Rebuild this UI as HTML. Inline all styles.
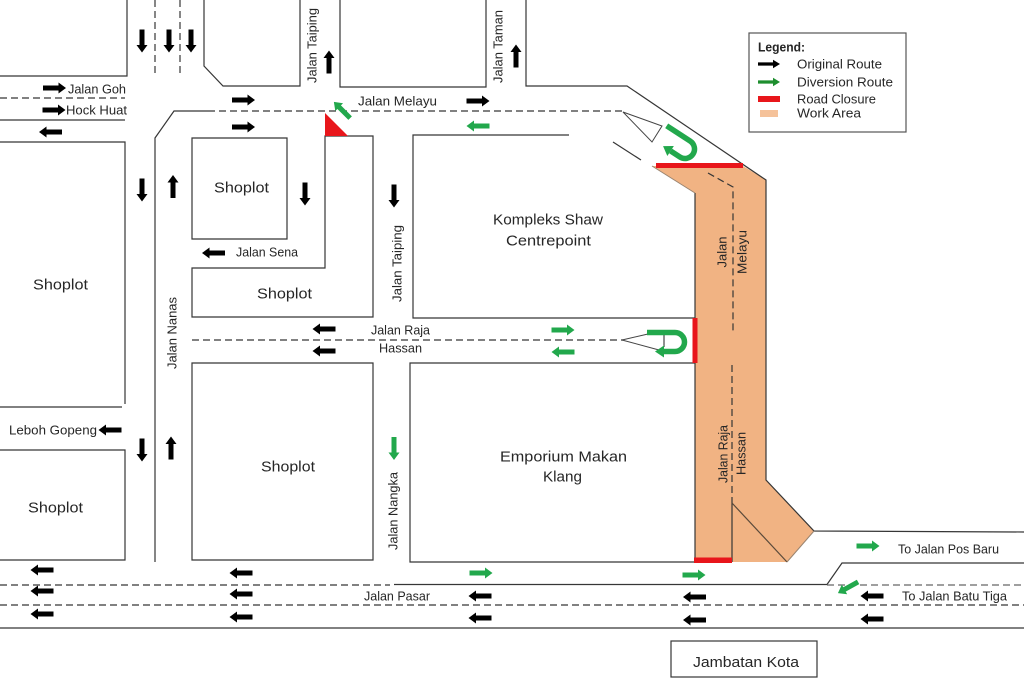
<!DOCTYPE html>
<html>
<head>
<meta charset="utf-8">
<style>
html,body{margin:0;padding:0;background:#fff;}
svg{display:block;}
text{font-family:"Liberation Sans",Arial,sans-serif;fill:#262626;}
.s{font-size:12.5px;}
.m{font-size:15px;}
</style>
</head>
<body>
<svg width="1024" height="694" viewBox="0 0 1024 694" xmlns="http://www.w3.org/2000/svg">
<defs>
  <polygon id="ar" points="-11.5,-2.5 4,-2.5 4,-5.5 11.5,0 4,5.5 4,2.5 -11.5,2.5"/>
  <polygon id="la" points="-11,-1.6 4,-1.6 4,-4.2 11,0 4,4.2 4,1.6 -11,1.6"/>
</defs>
<rect width="1024" height="694" fill="#fff"/>

<!-- Work area -->
<polygon points="652,166 743,166 766,180 766,480 814,531 787,562 695,562 695,193" fill="#F1B383"/>

<!-- solid lines -->
<g fill="none" stroke="#363636" stroke-width="1.2">
  <path d="M127,0 V76 H0"/>
  <path d="M204,0 V66 L223,86 H300 V0"/>
  <path d="M340,0 V87 H486 V0"/>
  <path d="M526,0 V86 H627 L766,180 V480 L814,531 L1024,532"/>
  <path d="M0,120 H125"/>
  <path d="M0,142 H125 V404"/>
  <path d="M0,407 H122"/>
  <path d="M0,450 H125 V560 H0"/>
  <path d="M155,562 V138 L174,111 H208"/>
  <path d="M192,239 V138 H287 V239 Z"/>
  <path d="M192,268 H325 V136 H373 V317 H192 Z"/>
  <path d="M569,135 H413 V318 H695"/>
  <path d="M613,142 L641,160"/>
  <path d="M192,363 H373 V560 H192 Z"/>
  <path d="M695,363 H410 V562 H695"/>
  <path d="M695,193 V562"/>
  <path d="M394,584.5 H827 L842,563 H1024"/>
  <path d="M0,628 H1024"/>
  <path d="M732,503 V562"/>
  <path d="M732,503 L787,562" stroke="#5a4a3a"/>
  <path d="M814,531 L787,562" stroke="#9a8470" stroke-width="1"/>
  <path d="M652,166 L695,193" stroke="#9a8470" stroke-width="1"/>
  <rect x="671" y="641" width="146" height="36"/>
  <rect x="749" y="33" width="157" height="99" stroke="#555"/>
</g>

<!-- dashed lines -->
<g fill="none" stroke="#363636" stroke-width="1.2" stroke-dasharray="7 4">
  <path d="M155,0 V76"/>
  <path d="M180,0 V76"/>
  <path d="M0,98 H125"/>
  <path d="M208,111 H623"/>
  <path d="M192,340 H623"/>
  <path d="M0,585 H390"/>
  <path d="M0,605 H1024"/>
  <path d="M827,585 H1024" stroke="#666"/>
  <path d="M708,173 L733,187 V333"/>
  <path d="M732,365 V503"/>
</g>

<!-- wedges -->
<g fill="none" stroke="#444" stroke-width="1">
  <path d="M623,112 L662,126 L652,142 Z"/>
  <path d="M622,340 L648,334"/>
  <path d="M622,340 L659,350"/>
  <path d="M664,335 V347" stroke="#222"/>
</g>

<!-- red closures -->
<g fill="#E8161B">
  <polygon points="325,113 325,136 348,136"/>
  <rect x="656" y="163" width="87" height="5"/>
  <rect x="692.5" y="318" width="5" height="45"/>
  <rect x="694" y="557.5" width="38" height="5.5"/>
</g>

<!-- U-turns -->
<g transform="translate(675,342)">
  <path d="M-28,-9.5 H0 A9.5,9.5 0 0 1 0,9.5 H-11" fill="none" stroke="#22A84C" stroke-width="5.5"/>
  <polygon points="-20,9.5 -11,3.5 -11,15.5" fill="#22A84C"/>
</g>
<g transform="translate(685,149) rotate(33)">
  <path d="M-28,-9.5 H0 A9.5,9.5 0 0 1 0,9.5 H-11" fill="none" stroke="#22A84C" stroke-width="5.5"/>
  <polygon points="-20,9.5 -11,3.5 -11,15.5" fill="#22A84C"/>
</g>

<!-- black arrows -->
<g fill="#000">
  <use href="#ar" transform="translate(54.5,88)"/>
  <use href="#ar" transform="translate(54,110)"/>
  <use href="#ar" transform="translate(243.5,100)"/>
  <use href="#ar" transform="translate(243.5,127)"/>
  <use href="#ar" transform="translate(478,101)"/>

  <use href="#ar" transform="translate(50.5,132) rotate(180)"/>
  <use href="#ar" transform="translate(213.5,253) rotate(180)"/>
  <use href="#ar" transform="translate(324,329) rotate(180)"/>
  <use href="#ar" transform="translate(324,351) rotate(180)"/>
  <use href="#ar" transform="translate(110,430) rotate(180)"/>
  <use href="#ar" transform="translate(42,570) rotate(180)"/>
  <use href="#ar" transform="translate(42,591) rotate(180)"/>
  <use href="#ar" transform="translate(42,614) rotate(180)"/>
  <use href="#ar" transform="translate(241,573) rotate(180)"/>
  <use href="#ar" transform="translate(241,594) rotate(180)"/>
  <use href="#ar" transform="translate(241,617) rotate(180)"/>
  <use href="#ar" transform="translate(480,596) rotate(180)"/>
  <use href="#ar" transform="translate(480,618) rotate(180)"/>
  <use href="#ar" transform="translate(694.5,597) rotate(180)"/>
  <use href="#ar" transform="translate(694.5,620) rotate(180)"/>
  <use href="#ar" transform="translate(872,596) rotate(180)"/>
  <use href="#ar" transform="translate(872,619) rotate(180)"/>

  <use href="#ar" transform="translate(142,41) rotate(90)"/>
  <use href="#ar" transform="translate(169,41) rotate(90)"/>
  <use href="#ar" transform="translate(191,41) rotate(90)"/>
  <use href="#ar" transform="translate(142,190) rotate(90)"/>
  <use href="#ar" transform="translate(305,194) rotate(90)"/>
  <use href="#ar" transform="translate(394,196) rotate(90)"/>
  <use href="#ar" transform="translate(142,450) rotate(90)"/>

  <use href="#ar" transform="translate(329,62) rotate(-90)"/>
  <use href="#ar" transform="translate(516,56) rotate(-90)"/>
  <use href="#ar" transform="translate(173,186.5) rotate(-90)"/>
  <use href="#ar" transform="translate(171,448) rotate(-90)"/>
</g>

<!-- green arrows -->
<g fill="#22A84C">
  <use href="#ar" transform="translate(478,126) rotate(180)"/>
  <use href="#ar" transform="translate(563,352) rotate(180)"/>
  <use href="#ar" transform="translate(563,330)"/>
  <use href="#ar" transform="translate(481,573)"/>
  <use href="#ar" transform="translate(694,575)"/>
  <use href="#ar" transform="translate(868,546)"/>
  <use href="#ar" transform="translate(394,448.5) rotate(90)"/>
  <use href="#ar" transform="translate(342,110) rotate(-135)"/>
  <use href="#ar" transform="translate(848,587.5) rotate(151)"/>
</g>

<!-- legend -->
<use href="#la" transform="translate(769,64)" fill="#000"/>
<use href="#la" transform="translate(769,82)" fill="#1E8E2E"/>
<rect x="758" y="96" width="22" height="6" fill="#E8161B"/>
<rect x="760" y="110" width="18" height="7" fill="#F5C29A"/>
<text class="s" x="758" y="51.5" font-weight="bold" textLength="47" lengthAdjust="spacingAndGlyphs">Legend:</text>
<text class="s" x="797" y="68.5" textLength="85" lengthAdjust="spacingAndGlyphs">Original Route</text>
<text class="s" x="797" y="86.5" textLength="96" lengthAdjust="spacingAndGlyphs">Diversion Route</text>
<text class="s" x="797" y="103.5" textLength="79" lengthAdjust="spacingAndGlyphs">Road Closure</text>
<text class="s" x="797" y="117.5" textLength="64" lengthAdjust="spacingAndGlyphs">Work Area</text>

<!-- horizontal labels -->
<text class="s" x="68" y="93.5" textLength="58" lengthAdjust="spacingAndGlyphs">Jalan Goh</text>
<text class="s" x="66" y="114.5" textLength="61" lengthAdjust="spacingAndGlyphs">Hock Huat</text>
<text class="s" x="358" y="105.5" textLength="79" lengthAdjust="spacingAndGlyphs">Jalan Melayu</text>
<text class="s" x="236" y="256.5" textLength="62" lengthAdjust="spacingAndGlyphs">Jalan Sena</text>
<text class="s" x="9" y="434.5" textLength="88" lengthAdjust="spacingAndGlyphs">Leboh Gopeng</text>
<text class="s" x="371" y="334.5" textLength="59" lengthAdjust="spacingAndGlyphs">Jalan Raja</text>
<text class="s" x="379" y="352.5" textLength="43" lengthAdjust="spacingAndGlyphs">Hassan</text>
<text class="s" x="364" y="600.5" textLength="66" lengthAdjust="spacingAndGlyphs">Jalan Pasar</text>
<text class="s" x="898" y="553.5" textLength="101" lengthAdjust="spacingAndGlyphs">To Jalan Pos Baru</text>
<text class="s" x="902" y="600.5" textLength="105" lengthAdjust="spacingAndGlyphs">To Jalan Batu Tiga</text>

<text class="m" x="214" y="192.5" textLength="55" lengthAdjust="spacingAndGlyphs">Shoplot</text>
<text class="m" x="33" y="289.5" textLength="55" lengthAdjust="spacingAndGlyphs">Shoplot</text>
<text class="m" x="257" y="298.5" textLength="55" lengthAdjust="spacingAndGlyphs">Shoplot</text>
<text class="m" x="28" y="512.5" textLength="55" lengthAdjust="spacingAndGlyphs">Shoplot</text>
<text class="m" x="261" y="471.5" textLength="54" lengthAdjust="spacingAndGlyphs">Shoplot</text>
<text class="m" x="493" y="224.5" textLength="110" lengthAdjust="spacingAndGlyphs">Kompleks Shaw</text>
<text class="m" x="506" y="245.5" textLength="85" lengthAdjust="spacingAndGlyphs">Centrepoint</text>
<text class="m" x="500" y="461.5" textLength="127" lengthAdjust="spacingAndGlyphs">Emporium Makan</text>
<text class="m" x="543" y="481.5" textLength="39" lengthAdjust="spacingAndGlyphs">Klang</text>
<text class="m" x="693" y="667" textLength="106" lengthAdjust="spacingAndGlyphs">Jambatan Kota</text>

<!-- vertical labels -->
<text class="s" transform="translate(312,45.5) rotate(-90)" x="-37.5" y="4.5" textLength="75" lengthAdjust="spacingAndGlyphs">Jalan Taiping</text>
<text class="s" transform="translate(498,46.5) rotate(-90)" x="-36.5" y="4.5" textLength="73" lengthAdjust="spacingAndGlyphs">Jalan Taman</text>
<text class="s" transform="translate(397,263.5) rotate(-90)" x="-38.5" y="4.5" textLength="77" lengthAdjust="spacingAndGlyphs">Jalan Taiping</text>
<text class="s" transform="translate(172,333) rotate(-90)" x="-36" y="4.5" textLength="72" lengthAdjust="spacingAndGlyphs">Jalan Nanas</text>
<text class="s" transform="translate(393,511) rotate(-90)" x="-39" y="4.5" textLength="78" lengthAdjust="spacingAndGlyphs">Jalan Nangka</text>
<text class="s" transform="translate(722,252) rotate(-90)" x="-15.5" y="4.5" textLength="31" lengthAdjust="spacingAndGlyphs">Jalan</text>
<text class="s" transform="translate(742,252) rotate(-90)" x="-22" y="4.5" textLength="44" lengthAdjust="spacingAndGlyphs">Melayu</text>
<text class="s" transform="translate(723,454) rotate(-90)" x="-29" y="4.5" textLength="58" lengthAdjust="spacingAndGlyphs">Jalan Raja</text>
<text class="s" transform="translate(741,453.5) rotate(-90)" x="-21.5" y="4.5" textLength="43" lengthAdjust="spacingAndGlyphs">Hassan</text>
</svg>
</body>
</html>
